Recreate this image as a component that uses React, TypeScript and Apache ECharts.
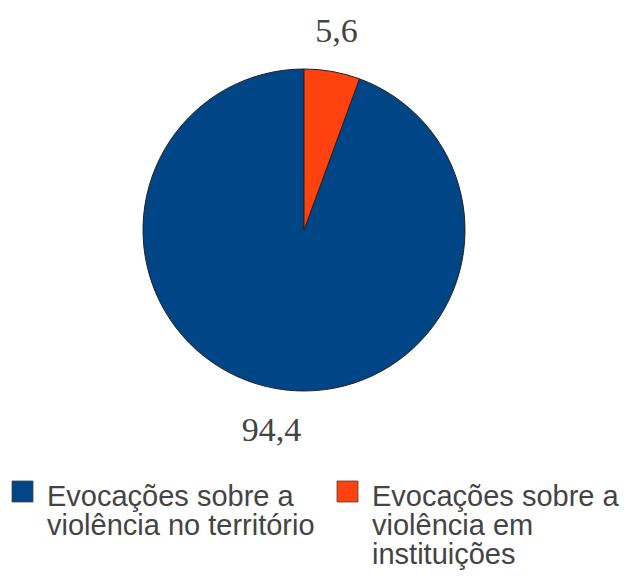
import React, { useEffect, useRef } from "react";
import * as echarts from "echarts";

const categories = [
  "Evocações sobre a\nviolência no território",
  "Evocações sobre a\nviolência em\ninstituições",
];
const values = [94.4, 5.6];
const colors = ["#004586", "#ff420e"];

export default function App() {
  const ref = useRef<HTMLDivElement>(null);
  useEffect(() => {
    document.body.style.margin = "0";
    const chart = echarts.init(ref.current!, null, { renderer: "svg" });
    const legendX = [12, 337];
    const graphic: any[] = [];
    categories.forEach((name, i) => {
      graphic.push({
        type: "rect",
        shape: { x: legendX[i], y: 481, width: 21, height: 21 },
        style: { fill: colors[i], stroke: "#444", lineWidth: 0.8 },
      });
      graphic.push({
        type: "text",
        x: legendX[i] + 35,
        y: 481,
        style: {
          text: name,
          font: '29px "Liberation Sans", Arial, sans-serif',
          fill: "#444",
          lineHeight: 29,
          textVerticalAlign: "top",
        },
      });
    });
    chart.setOption({
      animation: false,
      graphic,
      series: [
        {
          type: "pie",
          center: [304, 230],
          radius: [0, 161],
          clockwise: false,
          startAngle: 90,
          data: categories.map((n, i) => ({
            name: n,
            value: values[i],
            itemStyle: { color: colors[i] },
          })),
          itemStyle: { borderColor: "#222", borderWidth: 1 },
          label: {
            show: true,
            position: "outside",
            formatter: (p: any) => p.value.toFixed(1).replace(".", ","),
            fontFamily: '"Liberation Serif", "Times New Roman", serif',
            fontSize: 34,
            color: "#444",
          },
          labelLine: { show: false, length: 42, length2: 0 },
          labelLayout: (p: any) => ({
            align: "center",
            verticalAlign: "middle",
            dx: p.align === "left" ? -8 : 8,
          }),
          emphasis: { disabled: true },
        },
      ],
    });
    return () => chart.dispose();
  }, []);
  return <div ref={ref} style={{ width: 627, height: 576 }} />;
}
